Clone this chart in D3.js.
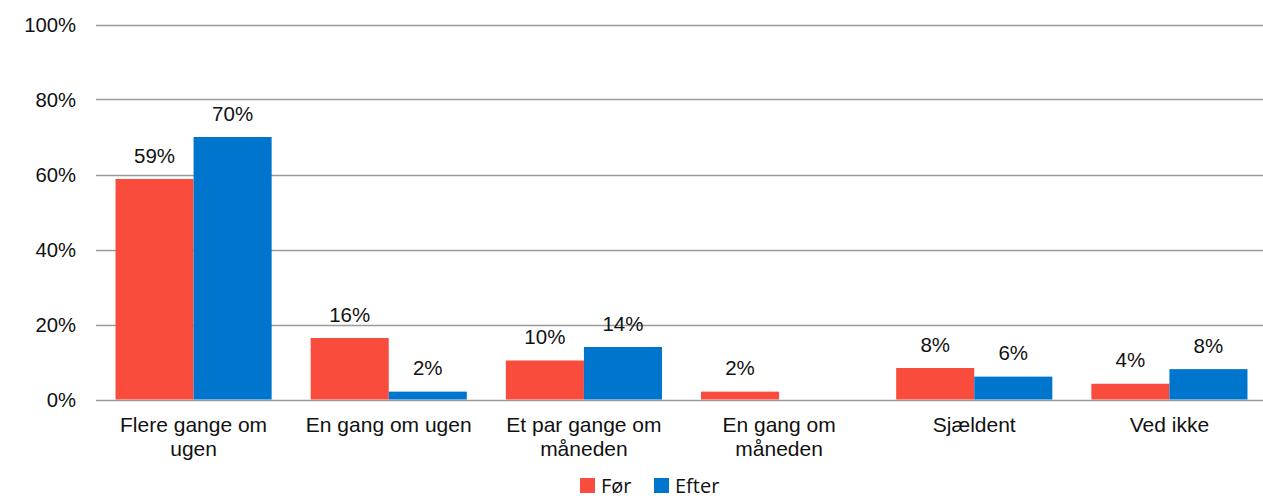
<!DOCTYPE html>
<html>
<head>
<meta charset="utf-8">
<script src="https://cdn.jsdelivr.net/npm/d3@7"></script>
<style>
  body { margin: 0; background: #fff; }
  text { font-family: "Liberation Sans", Arial, sans-serif; fill: #111; }
</style>
</head>
<body>
<script>
// data
var categories = [["Flere gange om", "ugen"], ["En gang om ugen"], ["Et par gange om", "måneden"],
                  ["En gang om", "måneden"], ["Sjældent"], ["Ved ikke"]];
var seriesNames = ["Før", "Efter"];
var forValues = [0.588, 0.164, 0.104, 0.021, 0.084, 0.042];
var efterValues = [0.70, 0.021, 0.140, 0, 0.061, 0.081];
var yTicks = [0, 0.2, 0.4, 0.6, 0.8, 1];

var colors = ["#F94C3D", "#0075CE"];

var width = 1263, height = 499;
var margin = { top: 24.5, right: -4, bottom: 99.5, left: 96 };

var svg = d3.select("body").append("svg")
    .attr("width", width)
    .attr("height", height);

// set the ranges
var x0 = d3.scaleBand()
    .domain(d3.range(categories.length))
    .range([margin.left, width - margin.right])
    .paddingInner(0.2)
    .paddingOuter(0.1);
var x1 = d3.scaleBand()
    .domain(seriesNames)
    .range([0, x0.bandwidth()]);
var y = d3.scaleLinear().domain([0, 1]).range([height - margin.bottom, margin.top]);

// gridlines
svg.append("g").selectAll("line")
    .data(yTicks)
    .enter().append("line")
    .attr("x1", margin.left)
    .attr("x2", width)
    .attr("y1", function (d) { return Math.round(y(d)) + 0.5; })
    .attr("y2", function (d) { return Math.round(y(d)) + 0.5; })
    .attr("stroke", "#9a9a9a")
    .attr("stroke-width", 1.3);

// y labels
svg.append("g").selectAll("text")
    .data(yTicks)
    .enter().append("text")
    .attr("x", 76)
    .attr("y", function (d) { return y(d); })
    .attr("dy", "0.35em")
    .attr("text-anchor", "end")
    .style("font-size", "20.3px")
    .text(d3.format(".0%"));

var rows = categories.map(function (c, i) {
    return { i: i, vals: [{ k: "Før", v: forValues[i] }, { k: "Efter", v: efterValues[i] }] };
});

var group = svg.append("g").selectAll("g")
    .data(rows)
    .enter().append("g")
    .attr("transform", function (d) { return "translate(" + x0(d.i) + ",0)"; });

var bars = group.selectAll("g")
    .data(function (d) { return d.vals; })
    .enter().append("g");

bars.filter(function (d) { return d.v > 0; })
    .append("rect")
    .attr("x", function (d) { return x1(d.k); })
    .attr("width", x1.bandwidth())
    .attr("y", function (d) { return y(d.v); })
    .attr("height", function (d) { return y(0) - y(d.v); })
    .attr("fill", function (d, i) { return colors[seriesNames.indexOf(d.k)]; });

bars.filter(function (d) { return d.v > 0; })
    .append("text")
    .attr("x", function (d) { return x1(d.k) + x1.bandwidth() / 2; })
    .attr("y", function (d) { return y(d.v) - 16.5; })
    .attr("text-anchor", "middle")
    .style("font-size", "20.5px")
    .text(function (d) { return d3.format(".0%")(d.v); });

// category labels
var catText = svg.append("g").selectAll("text")
    .data(categories)
    .enter().append("text")
    .attr("x", function (d, i) { return x0(i) + x0.bandwidth() / 2; })
    .attr("y", 432)
    .attr("text-anchor", "middle")
    .style("font-size", "21px");

catText.selectAll("tspan")
    .data(function (d) { return d; })
    .enter().append("tspan")
    .attr("x", function () { return this.parentNode.getAttribute("x"); })
    .attr("dy", function (d, i) { return i ? 24 : 0; })
    .text(function (d) { return d; });

// legend
var legendX = [580, 654];
var legend = svg.append("g").selectAll("g")
    .data(seriesNames)
    .enter().append("g")
    .attr("transform", function (d, i) { return "translate(" + legendX[i] + ",478)"; });

legend.append("rect")
    .attr("width", 15)
    .attr("height", 15)
    .attr("fill", function (d, i) { return colors[i]; });

legend.append("text")
    .attr("x", 21)
    .attr("y", 14.5)
    .style("font-family", "'Open Sans', sans-serif")
    .style("font-size", "20px")
    .text(function (d) { return d; });
</script>
</body>
</html>
